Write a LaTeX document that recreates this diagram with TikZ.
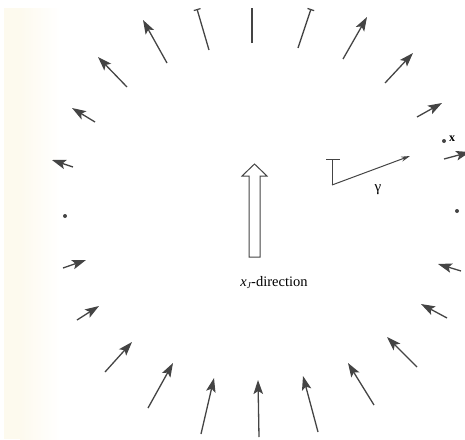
\documentclass[tikz,border=0pt]{standalone}
\usepackage{fontspec}
\newfontfamily\tms{Liberation Serif}
\usetikzlibrary{arrows.meta}
\definecolor{ink}{RGB}{68,68,68}
\definecolor{cream}{RGB}{253,250,238}
\tikzset{
  flux/.style={draw=ink, line width=1.3pt, -{Stealth[length=14pt,width=9.5pt,inset=3pt]}},
  cutflux/.style={draw=ink, line width=1.3pt, -{Bar[width=7pt,line width=1.2pt]}},
  plainline/.style={draw=ink, line width=1.3pt},
  dotmark/.style={circle, fill=ink, inner sep=0pt, minimum size=4pt},
  hollow/.style={draw=ink, line width=1pt, fill=white, line join=miter},
  gam/.style={draw=ink, line width=1pt},
}
\begin{document}
\begin{tikzpicture}[x=1pt,y=-1pt]
\useasboundingbox (0,0) rectangle (465,439);
\clip (0,0) rectangle (465,439);
\fill[cream] (4,8) rectangle (20,439);
\shade[left color=cream, right color=white] (20,8) rectangle (60,439);
% coordinates: tails (t) and heads (h)
\foreach \n/\tx/\ty/\hx/\hy in {
  1/95/122/72/108, 2/127/87/98/57, 3/167/63/143/20, 7/343/59/367/17,
  8/385/83/413/53, 9/417/117/442/103, 10/444/159/470/152, 11/73/167/52/160,
  12/63/268/86/260, 13/77/320/99/306, 14/105/372/132/342, 15/148/408/173/363,
  16/201/434/214/378, 17/259/437/258/380, 18/318/432/303/376, 19/374/405/348/363,
  20/417/367/387/337, 21/447/318/421/304, 22/461/271/438/264}{
  \coordinate (t\n) at (\tx,\ty);
  \coordinate (h\n) at (\hx,\hy);
  \draw[flux] (t\n) -- (h\n);
}
\coordinate (t4) at (209,50); \coordinate (h4) at (197,9);
\coordinate (t5) at (252,43); \coordinate (h5) at (252,8);
\coordinate (t6) at (298,48); \coordinate (h6) at (311,9);
\draw[cutflux] (t4) -- (h4);
\draw[plainline] (t5) -- (h5);
\draw[cutflux] (t6) -- (h6);
% dots
\node[dotmark] (d1) at (65,216) {};
\node[dotmark] (d2) at (457,211) {};
\node[dotmark] (px) at (444,141) {};
\node[anchor=west, inner sep=0pt, font=\tms\bfseries\fontsize{12}{14}\selectfont] (xl) at (449,139) {x};
% hollow arrow
\draw[hollow] (249,257) -- (249,176) -- (242,176) -- (254.5,164) -- (267,176) -- (260,176) -- (260,257) -- cycle;
\node[font=\tms\fontsize{14.5}{17}\selectfont, inner sep=0pt] (lab) at (274,283) {\textit{x}\raisebox{-0.3ex}{\fontsize{9}{10}\selectfont\textit{J}}-direction};
% gamma
\coordinate (g1) at (326,159); \coordinate (g2) at (340,159);
\coordinate (g3) at (332,159); \coordinate (g4) at (332,185); \coordinate (g5) at (410,156);
\draw[gam] (g1) -- (g2);
\draw[gam] (g3) -- (g4);
\draw[gam, -{Stealth[length=9pt,width=5pt]}] (g4) -- (g5);
\node[font=\tms\fontsize{15}{17}\selectfont, inner sep=0pt] (gl) at (378,190) {γ};
\end{tikzpicture}
\end{document}
